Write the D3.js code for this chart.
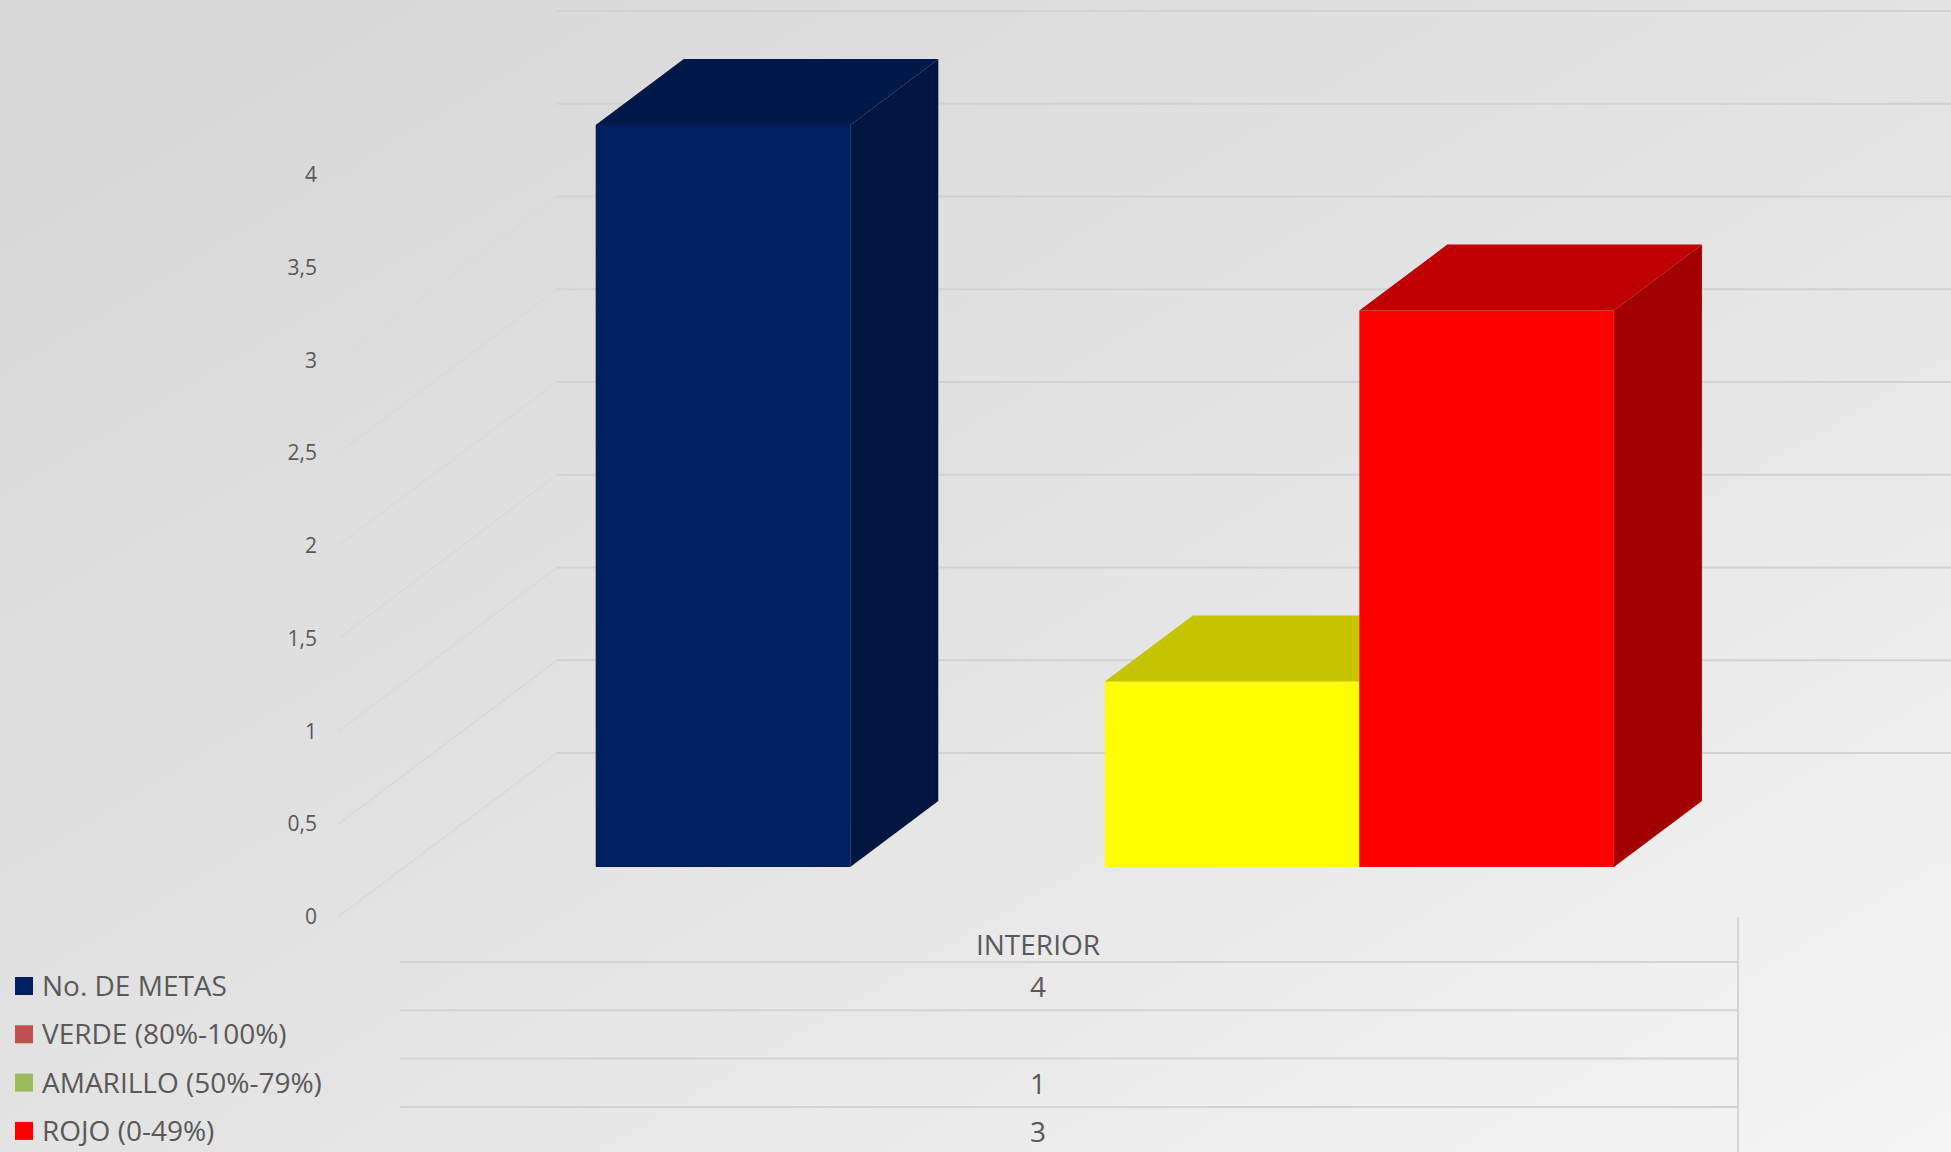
<!DOCTYPE html>
<html>
<head>
<meta charset="utf-8">
<script src="https://cdn.jsdelivr.net/npm/d3@7"></script>
<style>
  html, body { margin: 0; padding: 0; overflow: hidden; }
  svg { display: block; }
  text { font-family: "Open Sans", "Noto Sans", sans-serif; fill: #595959; }
</style>
</head>
<body>
<div id="chart"></div>
<script>
// data
const categories = ["INTERIOR"];
const seriesNames = ["No. DE METAS", "VERDE (80%-100%)", "AMARILLO (50%-79%)", "ROJO (0-49%)"];
const seriesValues = [4, null, 1, 3];
const yTicks = [0, 0.5, 1, 1.5, 2, 2.5, 3, 3.5, 4];

// styles
const frontColors = ["#002060", "#c0504d", "#ffff00", "#ff0000"];
const topColors = ["#001848", "#9a3f3d", "#c4c400", "#c00000"];
const sideColors = ["#001640", "#8a3735", "#a8a800", "#a20000"];
const legendColors = ["#002060", "#c0504d", "#9bbb59", "#ff0000"];

const W = 1951, H = 1152;
const margin = { left: 338, right: 213, top: 175, floor: 917 };
// oblique depth of the 3D box (full depth of the chart)
const depth = { dx: 219, dy: -164 };
const barDepth = [0.305, 0.707];

const svg = d3.select("#chart").append("svg")
    .attr("width", W)
    .attr("height", H);

// background gradient
const defs = svg.append("defs");
const grad = defs.append("linearGradient")
    .attr("id", "bg")
    .attr("x1", "0%").attr("y1", "0%")
    .attr("x2", "100%").attr("y2", "100%");
grad.append("stop").attr("offset", "0%").attr("stop-color", "#d6d6d6");
grad.append("stop").attr("offset", "55%").attr("stop-color", "#e4e4e4");
grad.append("stop").attr("offset", "100%").attr("stop-color", "#f5f5f5");
svg.append("rect").attr("width", W).attr("height", H).attr("fill", "url(#bg)");

const xScale = d3.scaleBand()
    .domain(categories)
    .range([margin.left, W - margin.right]);

const sScale = d3.scaleBand()
    .domain(seriesNames)
    .range([0, xScale.bandwidth()])
    .paddingInner(0)
    .paddingOuter(0.75);

const yScale = d3.scaleLinear()
    .domain([0, 4])
    .range([margin.floor, margin.top]);

const proj = (x, v, d) => [x + depth.dx * d, yScale(v) + depth.dy * d];

// gridlines: side wall + back wall
const grid = svg.append("g").attr("class", "grid");
yTicks.forEach(t => {
    const p0 = proj(margin.left, t, 0);
    const p1 = proj(margin.left, t, 1);
    grid.append("line")
        .attr("x1", p0[0]).attr("y1", p0[1])
        .attr("x2", p1[0]).attr("y2", p1[1])
        .attr("stroke", "#d9d9d9").attr("stroke-width", 1.5);
    grid.append("line")
        .attr("x1", p1[0]).attr("y1", p1[1])
        .attr("x2", W).attr("y2", p1[1])
        .attr("stroke", "#d2d2d2").attr("stroke-width", 2);
});

// y axis
const fmt = d3.formatLocale({ decimal: ",", thousands: ".", grouping: [3], currency: ["", ""] }).format("~g");
const yAxis = d3.axisLeft(yScale).tickValues(yTicks).tickSize(0).tickPadding(21).tickFormat(fmt);
svg.append("g")
    .attr("class", "y-axis")
    .attr("transform", `translate(${margin.left},0)`)
    .call(yAxis)
    .call(g => g.select(".domain").remove())
    .selectAll("text")
    .style("font-size", "21px")
    .attr("fill", "#595959");

// 3D bars
const bars = svg.append("g").attr("class", "bars");
const barData = seriesNames.map((name, i) => ({ name, value: seriesValues[i], i }))
    .filter(d => d.value != null && d.value > 0);

const poly = pts => pts.map(p => p.join(",")).join(" ");

categories.forEach(cat => {
    barData.forEach(d => {
        const x0 = xScale(cat) + sScale(d.name);
        const x1 = x0 + sScale.bandwidth();
        const [df, db] = barDepth;
        const g = bars.append("g");
        // front face
        g.append("polygon")
            .attr("points", poly([proj(x0, 0, df), proj(x1, 0, df), proj(x1, d.value, df), proj(x0, d.value, df)]))
            .attr("fill", frontColors[d.i]);
        // top face
        g.append("polygon")
            .attr("points", poly([proj(x0, d.value, df), proj(x1, d.value, df), proj(x1, d.value, db), proj(x0, d.value, db)]))
            .attr("fill", topColors[d.i]);
        // side face
        g.append("polygon")
            .attr("points", poly([proj(x1, 0, df), proj(x1, 0, db), proj(x1, d.value, db), proj(x1, d.value, df)]))
            .attr("fill", sideColors[d.i]);
    });
});

// data table
const table = svg.append("g").attr("class", "table");
const tableLeft = 400;
const tableRight = W - margin.right;
const rowTop = 962, rowH = 48.3;

table.append("line")
    .attr("x1", tableRight).attr("x2", tableRight)
    .attr("y1", margin.floor).attr("y2", H)
    .attr("stroke", "#d4d4d4").attr("stroke-width", 2);

categories.forEach(cat => {
    table.append("text")
        .attr("x", xScale(cat) + xScale.bandwidth() / 2)
        .attr("y", rowTop - 7)
        .attr("text-anchor", "middle")
        .style("font-size", "28px")
        .text(cat);
});

seriesNames.forEach((name, i) => {
    const y = rowTop + i * rowH;
    table.append("line")
        .attr("x1", tableLeft).attr("x2", tableRight)
        .attr("y1", y).attr("y2", y)
        .attr("stroke", "#d4d4d4").attr("stroke-width", 2);
    // legend key
    table.append("rect")
        .attr("x", 15).attr("y", y + 15)
        .attr("width", 18).attr("height", 18)
        .attr("fill", legendColors[i]);
    table.append("text")
        .attr("x", 42).attr("y", y + 34)
        .style("font-size", "28px")
        .text(name);
    if (seriesValues[i] != null) {
        categories.forEach(cat => {
            table.append("text")
                .attr("x", xScale(cat) + xScale.bandwidth() / 2)
                .attr("y", y + 35)
                .attr("text-anchor", "middle")
                .style("font-size", "28px")
                .text(seriesValues[i]);
        });
    }
});
</script>
</body>
</html>
